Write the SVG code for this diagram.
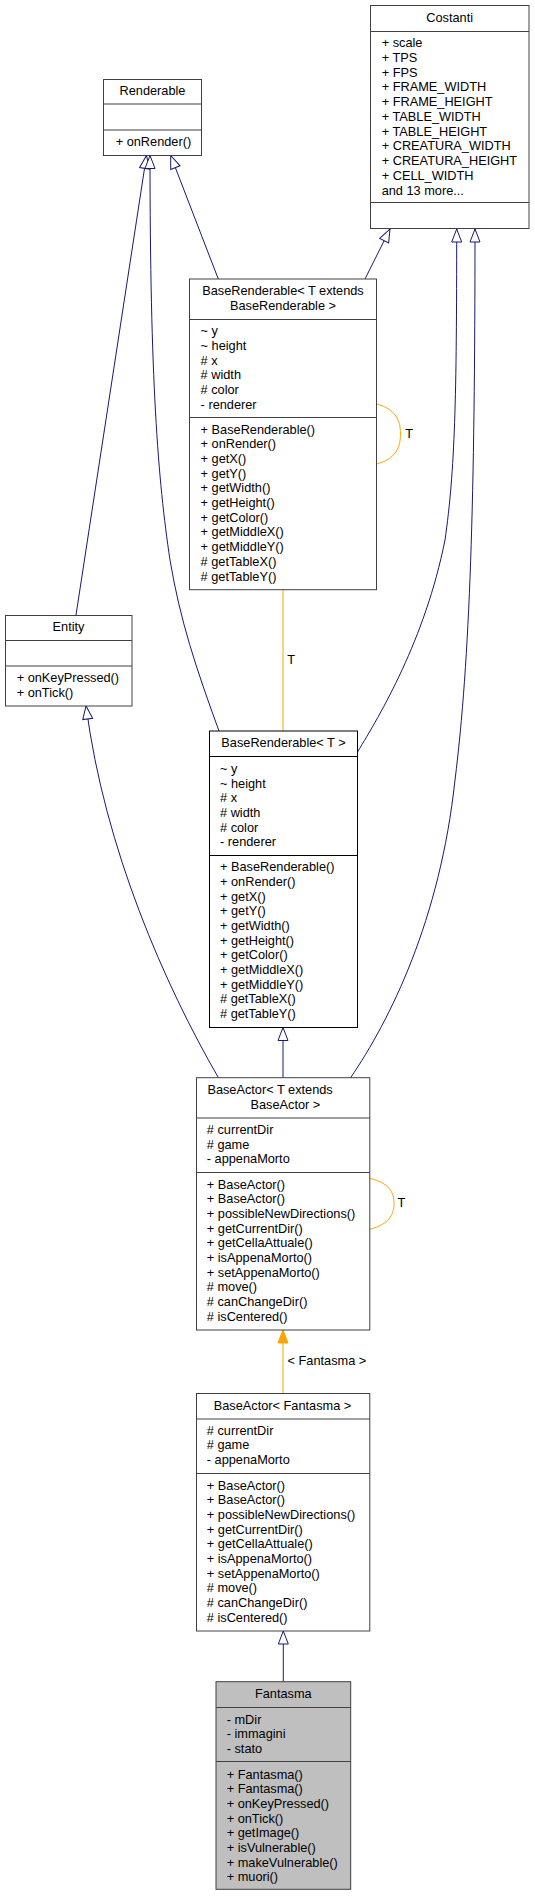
<svg xmlns="http://www.w3.org/2000/svg" width="535" height="1896" viewBox="0 0 535 1896">
<style>
text{font-family:"Liberation Sans",Arial,sans-serif;font-size:12.75px;fill:#000}
.m{text-anchor:middle}
.box{fill:#fff;stroke:#404040;stroke-width:1}
.box.k{stroke:#000}
.box.cur{fill:#bfbfbf}
.sep{stroke:#404040;stroke-width:1}
.sep.k{stroke:#000}
.inh{fill:none;stroke:#191970;stroke-width:1;marker-end:url(#open)}
.tpl{fill:none;stroke:#ffa500;stroke-width:1}
.tpla{fill:none;stroke:#ffa500;stroke-width:1;marker-end:url(#filled)}
</style>
<defs>
<marker id="open" markerUnits="userSpaceOnUse" markerWidth="16" markerHeight="14" refX="13" refY="5" orient="auto" style="overflow:visible"><path d="M0,0 L13,5 L0,10 Z" fill="#fff" stroke="#191970" stroke-width="1"/></marker>
<marker id="filled" markerUnits="userSpaceOnUse" markerWidth="16" markerHeight="14" refX="13" refY="5" orient="auto" style="overflow:visible"><path d="M0,0 L13,5 L0,10 Z" fill="#ffa500" stroke="#ffa500" stroke-width="1"/></marker>
</defs>
<rect width="535" height="1896" fill="#fff"/>

<g id="connectors">
<path class="inh" d="M76,615 L146.5,155.5"/>
<path class="inh" d="M219,731 C196,668 180,620 170,560 C158,480 150,380 150,155.5"/>
<path class="inh" d="M218.3,279 L170.7,155.5"/>
<path class="inh" d="M365,279 L390,229"/>
<path class="inh" d="M357.5,752 C380,715 425,640 445,540 C455,470 456.7,400 456.7,229"/>
<path class="inh" d="M350.4,1078 C390,1020 440,920 455,780 C470,660 475,500 475,229"/>
<path class="inh" d="M218.4,1077.7 C165,985 105,850 86,706"/>
<path class="inh" d="M283,1077.7 L283,1027.5"/>
<path class="inh" d="M283.3,1681.7 L283.3,1631"/>
<path class="tpl" d="M283,589.7 L283,731"/>
<text x="287.3" y="663.8">T</text>
<path class="tpl" d="M376.5,404 C396,409 400.5,421 400.5,434 C400.5,447 396,459 376.5,464"/>
<text x="405.3" y="437.5">T</text>
<path class="tpl" d="M369.8,1178.3 C389,1183 394,1192 394,1203.5 C394,1215 389,1224 369.8,1229.3"/>
<text x="397.5" y="1206.8">T</text>
<path class="tpla" d="M283,1393.3 L283,1330"/>
<text x="287.6" y="1364.8">&lt; Fantasma &gt;</text>
</g>

<g id="node-Costanti">
<rect class="box" x="370.5" y="5.5" width="158.5" height="223"/>
<line class="sep" x1="370.5" y1="31.5" x2="529" y2="31.5"/>
<line class="sep" x1="370.5" y1="202.5" x2="529" y2="202.5"/>
<text class="m" x="449.7" y="21.8">Costanti</text>
<text x="381.7" y="47.2">+ scale</text>
<text x="381.7" y="61.95">+ TPS</text>
<text x="381.7" y="76.7">+ FPS</text>
<text x="381.7" y="91.45">+ FRAME_WIDTH</text>
<text x="381.7" y="106.2">+ FRAME_HEIGHT</text>
<text x="381.7" y="120.95">+ TABLE_WIDTH</text>
<text x="381.7" y="135.7">+ TABLE_HEIGHT</text>
<text x="381.7" y="150.45">+ CREATURA_WIDTH</text>
<text x="381.7" y="165.2">+ CREATURA_HEIGHT</text>
<text x="381.7" y="179.95">+ CELL_WIDTH</text>
<text x="381.7" y="194.7">and 13 more...</text>
</g>

<g id="node-Renderable">
<rect class="box" x="103.5" y="79.5" width="98" height="76"/>
<line class="sep" x1="103.5" y1="104" x2="201.5" y2="104"/>
<line class="sep" x1="103.5" y1="130" x2="201.5" y2="130"/>
<text class="m" x="152.5" y="95.2">Renderable</text>
<text x="115.7" y="146.2">+ onRender()</text>
</g>

<g id="node-BaseRenderableExt">
<rect class="box" x="189.5" y="279" width="187" height="310.7"/>
<line class="sep" x1="189.5" y1="319.5" x2="376.5" y2="319.5"/>
<line class="sep" x1="189.5" y1="417.5" x2="376.5" y2="417.5"/>
<text class="m" x="283" y="295.2">BaseRenderable&lt; T extends</text>
<text class="m" x="283" y="309.8">BaseRenderable &gt;</text>
<text x="200.6" y="335.2">~ y</text>
<text x="200.6" y="349.9">~ height</text>
<text x="200.6" y="364.6">#  x</text>
<text x="200.6" y="379.3">#  width</text>
<text x="200.6" y="394">#  color</text>
<text x="200.6" y="408.7">-  renderer</text>
<text x="200.6" y="433.8">+ BaseRenderable()</text>
<text x="200.6" y="448.47">+ onRender()</text>
<text x="200.6" y="463.14">+ getX()</text>
<text x="200.6" y="477.81">+ getY()</text>
<text x="200.6" y="492.48">+ getWidth()</text>
<text x="200.6" y="507.15">+ getHeight()</text>
<text x="200.6" y="521.82">+ getColor()</text>
<text x="200.6" y="536.49">+ getMiddleX()</text>
<text x="200.6" y="551.16">+ getMiddleY()</text>
<text x="200.6" y="565.83">#  getTableX()</text>
<text x="200.6" y="580.5">#  getTableY()</text>
</g>

<g id="node-Entity">
<rect class="box" x="5.5" y="615.5" width="126.5" height="90.5"/>
<line class="sep" x1="5.5" y1="640.5" x2="132" y2="640.5"/>
<line class="sep" x1="5.5" y1="666" x2="132" y2="666"/>
<text class="m" x="68.5" y="631.2">Entity</text>
<text x="16.7" y="681.8">+ onKeyPressed()</text>
<text x="16.7" y="696.8">+ onTick()</text>
</g>

<g id="node-BaseRenderableT">
<rect class="box k" x="209.5" y="731" width="148" height="296.5"/>
<line class="sep k" x1="209.5" y1="756.5" x2="357.5" y2="756.5"/>
<line class="sep k" x1="209.5" y1="855.5" x2="357.5" y2="855.5"/>
<text class="m" x="283.5" y="747.2">BaseRenderable&lt; T &gt;</text>
<text x="220" y="772.8">~ y</text>
<text x="220" y="787.5">~ height</text>
<text x="220" y="802.2">#  x</text>
<text x="220" y="816.9">#  width</text>
<text x="220" y="831.6">#  color</text>
<text x="220" y="846.3">-  renderer</text>
<text x="220" y="871.2">+ BaseRenderable()</text>
<text x="220" y="885.87">+ onRender()</text>
<text x="220" y="900.54">+ getX()</text>
<text x="220" y="915.21">+ getY()</text>
<text x="220" y="929.88">+ getWidth()</text>
<text x="220" y="944.55">+ getHeight()</text>
<text x="220" y="959.22">+ getColor()</text>
<text x="220" y="973.89">+ getMiddleX()</text>
<text x="220" y="988.56">+ getMiddleY()</text>
<text x="220" y="1003.23">#  getTableX()</text>
<text x="220" y="1017.9">#  getTableY()</text>
</g>

<g id="node-BaseActorExt">
<rect class="box" x="196.5" y="1077.7" width="173.3" height="252.3"/>
<line class="sep" x1="196.5" y1="1118" x2="369.8" y2="1118"/>
<line class="sep" x1="196.5" y1="1172.5" x2="369.8" y2="1172.5"/>
<text x="207.4" y="1093.8">BaseActor&lt; T extends</text>
<text class="m" x="285.4" y="1108.5">BaseActor &gt;</text>
<text x="206.8" y="1133.8">#  currentDir</text>
<text x="206.8" y="1148.5">#  game</text>
<text x="206.8" y="1163.2">-  appenaMorto</text>
<text x="206.8" y="1188.8">+ BaseActor()</text>
<text x="206.8" y="1203.47">+ BaseActor()</text>
<text x="206.8" y="1218.14">+ possibleNewDirections()</text>
<text x="206.8" y="1232.81">+ getCurrentDir()</text>
<text x="206.8" y="1247.48">+ getCellaAttuale()</text>
<text x="206.8" y="1262.15">+ isAppenaMorto()</text>
<text x="206.8" y="1276.82">+ setAppenaMorto()</text>
<text x="206.8" y="1291.49">#  move()</text>
<text x="206.8" y="1306.16">#  canChangeDir()</text>
<text x="206.8" y="1320.83">#  isCentered()</text>
</g>

<g id="node-BaseActorFantasma">
<rect class="box" x="196.5" y="1393.5" width="173.3" height="237.5"/>
<line class="sep" x1="196.5" y1="1419" x2="369.8" y2="1419"/>
<line class="sep" x1="196.5" y1="1473.5" x2="369.8" y2="1473.5"/>
<text class="m" x="282.5" y="1409.8">BaseActor&lt; Fantasma &gt;</text>
<text x="206.8" y="1434.5">#  currentDir</text>
<text x="206.8" y="1449.2">#  game</text>
<text x="206.8" y="1463.9">-  appenaMorto</text>
<text x="206.8" y="1489.8">+ BaseActor()</text>
<text x="206.8" y="1504.47">+ BaseActor()</text>
<text x="206.8" y="1519.14">+ possibleNewDirections()</text>
<text x="206.8" y="1533.81">+ getCurrentDir()</text>
<text x="206.8" y="1548.48">+ getCellaAttuale()</text>
<text x="206.8" y="1563.15">+ isAppenaMorto()</text>
<text x="206.8" y="1577.82">+ setAppenaMorto()</text>
<text x="206.8" y="1592.49">#  move()</text>
<text x="206.8" y="1607.16">#  canChangeDir()</text>
<text x="206.8" y="1621.83">#  isCentered()</text>
</g>

<g id="node-Fantasma">
<rect class="box cur" x="216" y="1681.7" width="134.7" height="207.6"/>
<line class="sep" x1="216" y1="1707.5" x2="350.7" y2="1707.5"/>
<line class="sep" x1="216" y1="1761.5" x2="350.7" y2="1761.5"/>
<text class="m" x="283.3" y="1697.8">Fantasma</text>
<text x="226.7" y="1723.5">-  mDir</text>
<text x="226.7" y="1738.2">-  immagini</text>
<text x="226.7" y="1752.9">-  stato</text>
<text x="226.7" y="1778.5">+ Fantasma()</text>
<text x="226.7" y="1793.17">+ Fantasma()</text>
<text x="226.7" y="1807.84">+ onKeyPressed()</text>
<text x="226.7" y="1822.51">+ onTick()</text>
<text x="226.7" y="1837.18">+ getImage()</text>
<text x="226.7" y="1851.85">+ isVulnerable()</text>
<text x="226.7" y="1866.52">+ makeVulnerable()</text>
<text x="226.7" y="1881.19">+ muori()</text>
</g>
</svg>
